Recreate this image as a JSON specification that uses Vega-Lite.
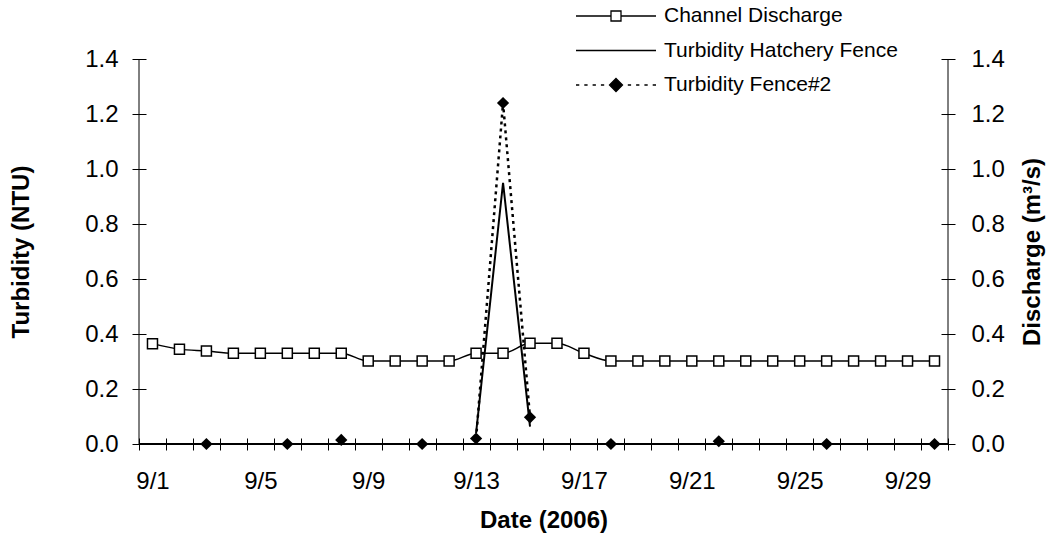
{
  "$schema": "https://vega.github.io/schema/vega-lite/v6.json",
  "width": 809,
  "height": 385,
  "autosize": {"type": "none"},
  "padding": {"left": 139, "top": 59, "right": 101, "bottom": 96},
  "config": {
    "font": "Liberation Sans",
    "view": {"stroke": null},
    "axis": {"labelColor": "black", "titleColor": "black", "tickColor": "black", "domainColor": "black", "grid": false, "labelFlush": false, "labelOverlap": false}
  },
  "datasets": {
    "main": [
      {"day": 1, "discharge": 0.365, "hatchery": null, "fence2": null},
      {"day": 2, "discharge": 0.345, "hatchery": null, "fence2": null},
      {"day": 3, "discharge": 0.338, "hatchery": null, "fence2": 0.0},
      {"day": 4, "discharge": 0.33, "hatchery": null, "fence2": null},
      {"day": 5, "discharge": 0.33, "hatchery": null, "fence2": null},
      {"day": 6, "discharge": 0.33, "hatchery": null, "fence2": 0.0},
      {"day": 7, "discharge": 0.33, "hatchery": null, "fence2": null},
      {"day": 8, "discharge": 0.33, "hatchery": null, "fence2": 0.015},
      {"day": 9, "discharge": 0.302, "hatchery": null, "fence2": null},
      {"day": 10, "discharge": 0.302, "hatchery": null, "fence2": null},
      {"day": 11, "discharge": 0.302, "hatchery": null, "fence2": 0.0},
      {"day": 12, "discharge": 0.302, "hatchery": null, "fence2": null},
      {"day": 13, "discharge": 0.33, "hatchery": 0.04, "fence2": 0.02},
      {"day": 14, "discharge": 0.33, "hatchery": 0.95, "fence2": 1.24},
      {"day": 15, "discharge": 0.366, "hatchery": 0.063, "fence2": 0.097},
      {"day": 16, "discharge": 0.366, "hatchery": null, "fence2": null},
      {"day": 17, "discharge": 0.33, "hatchery": null, "fence2": null},
      {"day": 18, "discharge": 0.302, "hatchery": null, "fence2": 0.0},
      {"day": 19, "discharge": 0.302, "hatchery": null, "fence2": null},
      {"day": 20, "discharge": 0.302, "hatchery": null, "fence2": null},
      {"day": 21, "discharge": 0.302, "hatchery": null, "fence2": null},
      {"day": 22, "discharge": 0.302, "hatchery": null, "fence2": 0.01},
      {"day": 23, "discharge": 0.302, "hatchery": null, "fence2": null},
      {"day": 24, "discharge": 0.302, "hatchery": null, "fence2": null},
      {"day": 25, "discharge": 0.302, "hatchery": null, "fence2": null},
      {"day": 26, "discharge": 0.302, "hatchery": null, "fence2": 0.0},
      {"day": 27, "discharge": 0.302, "hatchery": null, "fence2": null},
      {"day": 28, "discharge": 0.302, "hatchery": null, "fence2": null},
      {"day": 29, "discharge": 0.302, "hatchery": null, "fence2": null},
      {"day": 30, "discharge": 0.302, "hatchery": null, "fence2": 0.0}
    ],
    "legend": [
      {"series": "Channel Discharge"},
      {"series": "Turbidity Hatchery Fence"},
      {"series": "Turbidity Fence#2"}
    ]
  },
  "layer": [
    {
      "data": {"name": "main"},
      "layer": [
        {
          "mark": {"type": "line", "color": "black", "strokeWidth": 2.5, "strokeDash": [3, 4], "invalid": "break-paths-show-domains"},
          "encoding": {
            "x": {
              "field": "day", "type": "ordinal",
              "scale": {"type": "band", "paddingInner": 0, "paddingOuter": 0},
              "axis": {
                "orient": "bottom", "offset": -6, "domain": false, "tickSize": 12, "tickWidth": 1, "tickBand": "extent",
                "labelExpr": "(datum.value - 1) % 4 == 0 ? '9/' + datum.value : ''",
                "labelAngle": 0, "labelFontSize": 24, "labelPadding": 19,
                "title": "Date (2006)", "titleFontSize": 24, "titleFontWeight": "bold", "titlePadding": 15
              }
            },
            "y": {
              "field": "fence2", "type": "quantitative",
              "scale": {"domain": [0, 1.4], "nice": false},
              "axis": {
                "orient": "left", "offset": -7, "domain": false, "tickSize": 14, "tickWidth": 1,
                "values": [0, 0.2, 0.4, 0.6, 0.8, 1.0, 1.2, 1.4], "format": ".1f",
                "labelFontSize": 24, "labelPadding": 14,
                "title": "Turbidity (NTU)", "titleFontSize": 24, "titleFontWeight": "bold", "titlePadding": 51
              }
            }
          }
        },
        {
          "mark": {"type": "line", "color": "black", "strokeWidth": 2, "invalid": "break-paths-show-domains"},
          "encoding": {
            "x": {"field": "day", "type": "ordinal"},
            "y": {"field": "hatchery", "type": "quantitative", "title": "Turbidity (NTU)"}
          }
        },
        {
          "mark": {"type": "point", "shape": "diamond", "filled": true, "color": "black", "size": 150, "opacity": 1},
          "encoding": {
            "x": {"field": "day", "type": "ordinal"},
            "y": {"field": "fence2", "type": "quantitative", "title": "Turbidity (NTU)"}
          }
        }
      ]
    },
    {
      "data": {"name": "main"},
      "layer": [
        {
          "mark": {"type": "line", "color": "black", "strokeWidth": 1.5, "interpolate": "monotone"},
          "encoding": {
            "x": {"field": "day", "type": "ordinal"},
            "y": {
              "field": "discharge", "type": "quantitative",
              "scale": {"domain": [0, 1.4], "nice": false},
              "axis": {
                "orient": "right", "offset": -7, "domain": false, "tickSize": 14, "tickWidth": 1,
                "values": [0, 0.2, 0.4, 0.6, 0.8, 1.0, 1.2, 1.4], "format": ".1f",
                "labelFontSize": 24, "labelPadding": 16,
                "title": "Discharge (m³/s)", "titleFontSize": 24, "titleFontWeight": "bold", "titlePadding": 16,
                "titleAngle": -90, "titleBaseline": "top"
              }
            }
          }
        },
        {
          "mark": {"type": "point", "shape": "square", "filled": true, "fill": "white", "stroke": "black", "strokeWidth": 1.5, "size": 100, "opacity": 1},
          "encoding": {
            "x": {"field": "day", "type": "ordinal"},
            "y": {"field": "discharge", "type": "quantitative", "title": "Discharge (m³/s)"}
          }
        },
        {
          "mark": {"type": "rule", "color": "black", "strokeWidth": 1},
          "encoding": {"y": {"datum": 0, "type": "quantitative"}}
        },
        {
          "transform": [{"filter": "datum.day == 1"}],
          "mark": {"type": "rule", "color": "black", "strokeWidth": 1},
          "encoding": {"x": {"field": "day", "type": "ordinal", "bandPosition": 0}}
        },
        {
          "transform": [{"filter": "datum.day == 30"}],
          "mark": {"type": "rule", "color": "black", "strokeWidth": 1},
          "encoding": {"x": {"field": "day", "type": "ordinal", "bandPosition": 1}}
        }
      ]
    },
    {
      "data": {"name": "legend"},
      "mark": {"type": "point", "opacity": 0, "size": 400, "stroke": "black", "strokeWidth": 1.3, "filled": false},
      "encoding": {
        "shape": {
          "field": "series", "type": "nominal",
          "scale": {
            "domain": ["Channel Discharge", "Turbidity Hatchery Fence", "Turbidity Fence#2"],
            "range": [
              "M-4,0H-0.5M0.5,0H4M-0.5,-0.5H0.5V0.5H-0.5Z",
              "M-4,0H4",
              "M-4,0H-3.67M-3.17,0H-2.84M-2.34,0H-2.01M-1.51,0H-1.18M1.18,0H1.51M2.01,0H2.34M2.84,0H3.17M3.67,0H4M0,-0.65L0.65,0L0,0.65L-0.65,0Z"
            ]
          },
          "legend": {
            "title": null, "orient": "none", "legendX": 466, "legendY": -54,
            "labelFontSize": 21, "labelColor": "black", "labelOffset": 37, "labelLimit": 400,
            "rowPadding": 13.5, "symbolSize": 400, "symbolStrokeColor": "black", "symbolStrokeWidth": 1.3,
            "encode": {"symbols": {"update": {"opacity": {"value": 1}}}}
          }
        },
        "fill": {
          "field": "series", "type": "nominal",
          "scale": {
            "domain": ["Channel Discharge", "Turbidity Hatchery Fence", "Turbidity Fence#2"],
            "range": ["white", "black", "black"]
          },
          "legend": {
            "title": null, "orient": "none", "legendX": 466, "legendY": -54,
            "labelFontSize": 21, "labelColor": "black", "labelOffset": 37, "labelLimit": 400,
            "rowPadding": 13.5, "symbolSize": 400, "symbolStrokeColor": "black", "symbolStrokeWidth": 1.3,
            "encode": {"symbols": {"update": {"opacity": {"value": 1}}}}
          }
        }
      }
    }
  ],
  "resolve": {"scale": {"y": "independent"}}
}
